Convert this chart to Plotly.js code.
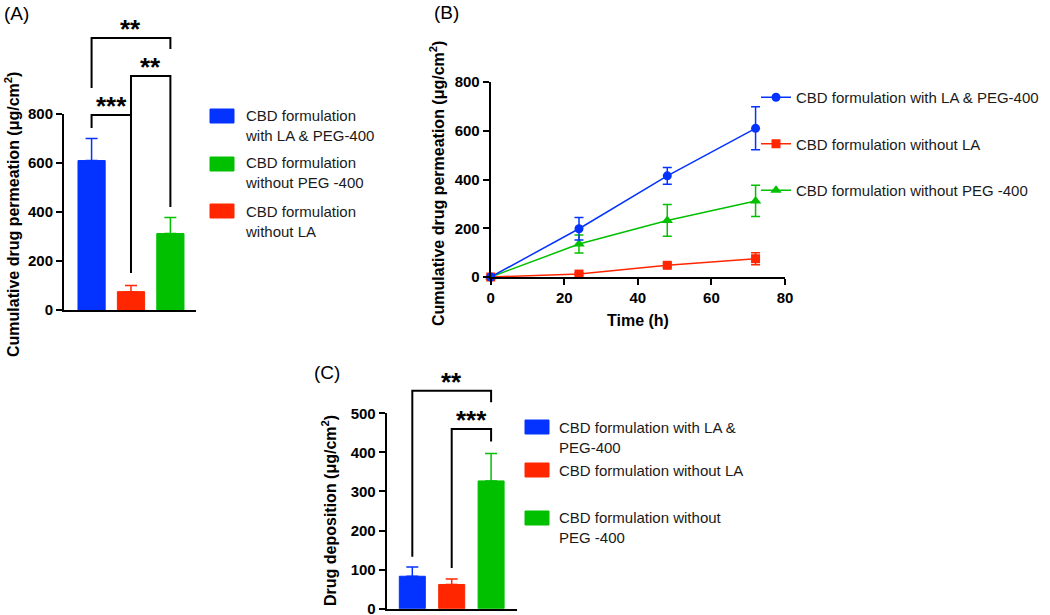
<!DOCTYPE html>
<html>
<head>
<meta charset="utf-8">
<script src="https://cdn.plot.ly/plotly-3.0.1.min.js"></script>
<style>html,body{margin:0;padding:0;background:#fff;}#chart{width:1050px;height:615px;}</style>
</head>
<body>
<div id="chart"></div>
<script>
// ---------- data ----------
const seriesNames = ['CBD formulation with LA & PEG-400', 'CBD formulation without LA', 'CBD formulation without PEG -400'];
const seriesColors = ['#0433FF', '#FF2600', '#00C000'];

// Panel A: cumulative drug permeation at 72 h (bar)
const permA = [610, 75, 312];
const permAErr = [90, 25, 66];

// Panel B: permeation over time
const timeH = [0, 24, 48, 72];
const permBlue = [0, 198, 415, 610];
const permBlueErr = [0, 46, 34, 88];
const permRed = [0, 12, 48, 75];
const permRedErr = [0, 5, 8, 25];
const permGreen = [0, 135, 232, 312];
const permGreenErr = [0, 37, 65, 64];

// Panel C: drug deposition
const depoC = [83, 62, 327];
const depoCErr = [24, 14, 70];

// significance brackets (category indices, heights in data units)
const sigA_from = [0, 1, 0];
const sigA_to = [1, 2, 2];
const sigA_top = [796, 955, 1110];
const sigA_left = [743, 796, 906];
const sigA_right = [151, 420, 1065];
const sigA_label = ['***', '**', '**'];

const sigC_from = [0, 1];
const sigC_to = [2, 2];
const sigC_top = [558, 460];
const sigC_left = [133, 104];
const sigC_right = [528, 428];
const sigC_label = ['**', '***'];

// legend texts
const legendA_order = [0, 2, 1];
const legendA_text = ['CBD formulation<br>with LA & PEG-400', 'CBD formulation<br>without PEG -400', 'CBD formulation<br>without LA'];
const legendC_order = [0, 1, 2];
const legendC_text = ['CBD formulation with LA &<br>PEG-400', 'CBD formulation without LA', 'CBD formulation without<br>PEG -400'];

// ---------- helpers ----------
const W = 1050, H = 615;
const fx = p => p / W;
const fy = p => 1 - p / H;
const FONT = 'Liberation Sans, Arial, sans-serif';
const tickFont = {family: FONT, size: 15, color: '#000', weight: 'bold'};

const traces = [];

// Panel A bars
for (let i = 0; i < 3; i++) {
  traces.push({
    type: 'bar', x: [seriesNames[i]], y: [permA[i]], xaxis: 'x', yaxis: 'y',
    width: 0.69, showlegend: false, hoverinfo: 'skip',
    marker: {color: seriesColors[i], line: {color: seriesColors[i], width: 1}},
    error_y: {type: 'data', array: [permAErr[i]], arrayminus: [0], symmetric: false,
              color: seriesColors[i], thickness: 1.5, width: 6}
  });
}
// Panel C bars
for (let i = 0; i < 3; i++) {
  traces.push({
    type: 'bar', x: [seriesNames[i]], y: [depoC[i]], xaxis: 'x3', yaxis: 'y3',
    width: 0.66, showlegend: false, hoverinfo: 'skip',
    marker: {color: seriesColors[i], line: {color: seriesColors[i], width: 1}},
    error_y: {type: 'data', array: [depoCErr[i]], arrayminus: [0], symmetric: false,
              color: seriesColors[i], thickness: 1.5, width: 6}
  });
}

// Brackets
function brackets(from, to, top, left, right, xa, ya) {
  for (let i = 0; i < from.length; i++) {
    traces.push({
      type: 'scatter', mode: 'lines', xaxis: xa, yaxis: ya, showlegend: false, hoverinfo: 'skip',
      x: [seriesNames[from[i]], seriesNames[from[i]], seriesNames[to[i]], seriesNames[to[i]]],
      y: [left[i], top[i], top[i], right[i]],
      line: {color: '#000', width: 2}
    });
  }
}
brackets(sigA_from, sigA_to, sigA_top, sigA_left, sigA_right, 'x', 'y4');
brackets(sigC_from, sigC_to, sigC_top, sigC_left, sigC_right, 'x3', 'y5');

// Panel B lines
const bSeries = [
  {y: permGreen, e: permGreenErr, c: 2, sym: 'triangle-up', size: 10, rank: 3},
  {y: permRed, e: permRedErr, c: 1, sym: 'square', size: 9, rank: 2},
  {y: permBlue, e: permBlueErr, c: 0, sym: 'circle', size: 9, rank: 1}
];
bSeries.forEach(s => {
  traces.push({
    type: 'scatter', mode: 'lines+markers', x: timeH, y: s.y, xaxis: 'x2', yaxis: 'y2',
    name: seriesNames[s.c], legendgroup: 'g' + s.c, legendrank: s.rank, cliponaxis: false,
    line: {color: seriesColors[s.c], width: 1.5},
    marker: {symbol: s.sym, size: s.size, color: seriesColors[s.c]},
    error_y: {type: 'data', array: s.e, color: seriesColors[s.c], thickness: 1.5, width: 4.5}
  });
});

// ---------- annotations & shapes ----------
const annotations = [];
const shapes = [];

function starLabels(from, to, top, labels, xa, ya) {
  for (let i = 0; i < from.length; i++) {
    annotations.push({
      xref: xa, yref: ya, x: (from[i] + to[i]) / 2, y: top[i],
      text: '<b>' + labels[i] + '</b>', showarrow: false, xanchor: 'center', yanchor: 'bottom',
      yshift: -8, font: {family: FONT, size: 26, color: '#000'}
    });
  }
}
starLabels(sigA_from, sigA_to, sigA_top, sigA_label, 'x', 'y4');
starLabels(sigC_from, sigC_to, sigC_top, sigC_label, 'x3', 'y5');

// panel letters
[['(A)', 16, 14], ['(B)', 446, 13], ['(C)', 327, 372]].forEach(p => {
  annotations.push({xref: 'paper', yref: 'paper', x: fx(p[1]), y: fy(p[2]), text: p[0],
    showarrow: false, xanchor: 'center', yanchor: 'middle', font: {family: FONT, size: 19, color: '#000'}});
});

// axis titles
const titleFont = {family: FONT, size: 16, color: '#000'};
[['Cumulative drug permeation (μg/cm<sup>2</sup>)', 12, 215],
 ['Cumulative drug permeation (μg/cm<sup>2</sup>)', 437, 184],
 ['Drug deposition (μg/cm<sup>2</sup>)', 329, 511]].forEach(t => {
  annotations.push({xref: 'paper', yref: 'paper', x: fx(t[1]), y: fy(t[2]), text: '<b>' + t[0] + '</b>',
    textangle: -90, showarrow: false, xanchor: 'center', yanchor: 'middle', font: titleFont});
});
annotations.push({xref: 'paper', yref: 'paper', x: fx(638), y: fy(320), text: '<b>Time (h)</b>',
  showarrow: false, xanchor: 'center', yanchor: 'middle', font: titleFont});

// manual legends for A and C
function boxLegend(order, texts, swX, swTop, txtX, txtCenter) {
  order.forEach((ci, k) => {
    shapes.push({type: 'rect', xref: 'paper', yref: 'paper',
      x0: fx(swX), x1: fx(swX + 24), y0: fy(swTop[k]), y1: fy(swTop[k] + 14),
      fillcolor: seriesColors[ci], line: {color: seriesColors[ci], width: 1}});
    annotations.push({xref: 'paper', yref: 'paper', x: fx(txtX), y: fy(txtCenter[k]), text: texts[k],
      showarrow: false, xanchor: 'left', yanchor: 'middle', align: 'left',
      font: {family: FONT, size: 15, color: '#1a1a1a'}});
  });
}
boxLegend(legendA_order, legendA_text, 210, [109, 157, 204], 243, [126, 173, 221]);
boxLegend(legendC_order, legendC_text, 525, [420, 463, 511], 557, [437, 470, 527]);

// ---------- layout ----------
const axCommon = {showgrid: false, zeroline: false, linecolor: '#000', linewidth: 2, showline: true,
  tickcolor: '#000', tickwidth: 2, ticklen: 6, tickfont: tickFont, fixedrange: true, ticklabeloverflow: 'allow'};
const scaleA = (310 - 114) / 800;
const scaleC = (608.7 - 413.3) / 500;

const layout = {
  width: W, height: H, margin: {l: 0, r: 0, t: 0, b: 0},
  paper_bgcolor: '#fff', plot_bgcolor: 'rgba(0,0,0,0)',
  barmode: 'overlay', showlegend: true,
  xaxis: Object.assign({}, axCommon, {domain: [fx(64), fx(196)], range: [-0.7, 2.65], anchor: 'y',
    type: 'category', categoryorder: 'array', categoryarray: seriesNames, showticklabels: false, ticks: ''}),
  yaxis: Object.assign({}, axCommon, {domain: [fy(310), fy(114)], range: [0, 800], anchor: 'x',
    tickvals: [0, 200, 400, 600, 800], ticks: 'outside'}),
  yaxis4: {domain: [fy(310), fy(10)], range: [0, 300 / scaleA], anchor: 'x', visible: false, fixedrange: true},
  xaxis2: Object.assign({}, axCommon, {domain: [fx(490.7), fx(785)], range: [0, 80], anchor: 'y2',
    tickvals: [0, 20, 40, 60, 80], ticks: 'outside'}),
  yaxis2: Object.assign({}, axCommon, {domain: [fy(277), fy(82)], range: [0, 800], anchor: 'x2',
    tickvals: [0, 200, 400, 600, 800], ticks: 'outside'}),
  xaxis3: Object.assign({}, axCommon, {domain: [fx(386.7), fx(516.7)], range: [-0.65, 2.65], anchor: 'y3',
    type: 'category', categoryorder: 'array', categoryarray: seriesNames, showticklabels: false, ticks: ''}),
  yaxis3: Object.assign({}, axCommon, {domain: [fy(608.7), fy(413.3)], range: [0, 500], anchor: 'x3',
    tickvals: [0, 100, 200, 300, 400, 500], ticks: 'outside'}),
  yaxis5: {domain: [fy(608.7), fy(350)], range: [0, 258.7 / scaleC], anchor: 'x3', visible: false, fixedrange: true},
  legend: {x: fx(756), y: fy(81), xanchor: 'left', yanchor: 'top', bgcolor: 'rgba(0,0,0,0)',
    font: {family: FONT, size: 15, color: '#1a1a1a'}, tracegroupgap: 24, traceorder: 'grouped'},
  annotations: annotations,
  shapes: shapes
};

Plotly.newPlot('chart', traces, layout, {staticPlot: true, displayModeBar: false});
</script>
</body>
</html>
